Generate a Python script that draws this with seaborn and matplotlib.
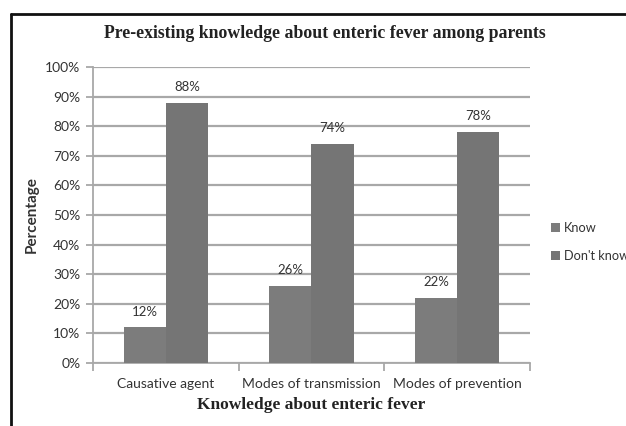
import matplotlib
matplotlib.use("Agg")
import matplotlib.pyplot as plt
import seaborn as sns
import pandas as pd
from matplotlib.patches import Patch
from matplotlib.lines import Line2D
from matplotlib.ticker import FixedLocator, PercentFormatter

categories = ["Causative agent", "Modes of transmission", "Modes of prevention"]
know = [12, 26, 22]
dont_know = [88, 74, 78]
series_names = ["Know", "Don't know"]
y_ticks = [0, 10, 20, 30, 40, 50, 60, 70, 80, 90, 100]

df = pd.DataFrame({
    "Category": categories * 2,
    "Value": know + dont_know,
    "Series": [series_names[0]] * 3 + [series_names[1]] * 3,
})

sns.set_theme(style="white")
plt.rcParams["font.family"] = ["Lato", "DejaVu Sans"]

colors = ["#7c7c7c", "#757575"]
grid_color = "#a8a8a8"

fig = plt.figure(figsize=(6.26, 4.26), dpi=100)
ax = fig.add_axes([0.1486, 0.1479, 0.698, 0.6948])

sns.barplot(data=df, x="Category", y="Value", hue="Series", order=categories,
            hue_order=series_names, palette=colors, width=0.58, saturation=1,
            linewidth=0, legend=False, ax=ax, zorder=3)

for cont in ax.containers:
    ax.bar_label(cont, labels=[f"{v:.0f}%" for v in cont.datavalues],
                 padding=7, fontsize=9.5, color="#333333")

ax.set_xlim(-0.5, 2.5)
ax.set_ylim(0, 100)
ax.yaxis.set_major_locator(FixedLocator(y_ticks))
ax.yaxis.set_major_formatter(PercentFormatter(decimals=0))
ax.grid(axis="y", color=grid_color, linewidth=1.6, zorder=0)
ax.set_axisbelow(True)

for s in ["top", "right"]:
    ax.spines[s].set_visible(False)
for s in ["left", "bottom"]:
    ax.spines[s].set_color(grid_color)
    ax.spines[s].set_linewidth(1.3)

ax.tick_params(axis="y", which="major", left=True, length=5, width=1.3,
               color=grid_color, labelsize=10, labelcolor="#333333", pad=4)
ax.tick_params(axis="x", which="major", bottom=False, labelsize=10,
               labelcolor="#333333", pad=5)
ax.xaxis.set_minor_locator(FixedLocator([-0.5, 0.5, 1.5, 2.5]))
ax.tick_params(axis="x", which="minor", bottom=True, length=6, width=1.3,
               color=grid_color)

ax.set_xlabel("Knowledge about enteric fever", family="Liberation Serif",
              fontweight="bold", fontsize=12.5, color="#222222", labelpad=5)
ax.set_ylabel("Percentage", fontweight="bold", fontsize=11, color="#333333",
              labelpad=5)
fig.text(0.519, 0.922, "Pre-existing knowledge about enteric fever among parents",
         family="Liberation Serif", fontweight="bold", fontsize=12.8,
         color="#222222", ha="center", va="center")

handles = [Patch(facecolor=c, edgecolor="none") for c in colors]
fig.legend(handles, series_names, loc="upper left",
           bbox_to_anchor=(0.872, 0.49), frameon=False, fontsize=9.2,
           handlelength=0.7, handleheight=0.7, handletextpad=0.3,
           labelspacing=1.2, labelcolor="#333333", borderaxespad=0)

fig.add_artist(Line2D([0.018, 0.018], [0, 0.968], transform=fig.transFigure,
                      color="#111111", linewidth=2))
fig.add_artist(Line2D([0.017, 1.0], [0.968, 0.968], transform=fig.transFigure,
                      color="#111111", linewidth=2))

fig.savefig("out.png", dpi=100)
